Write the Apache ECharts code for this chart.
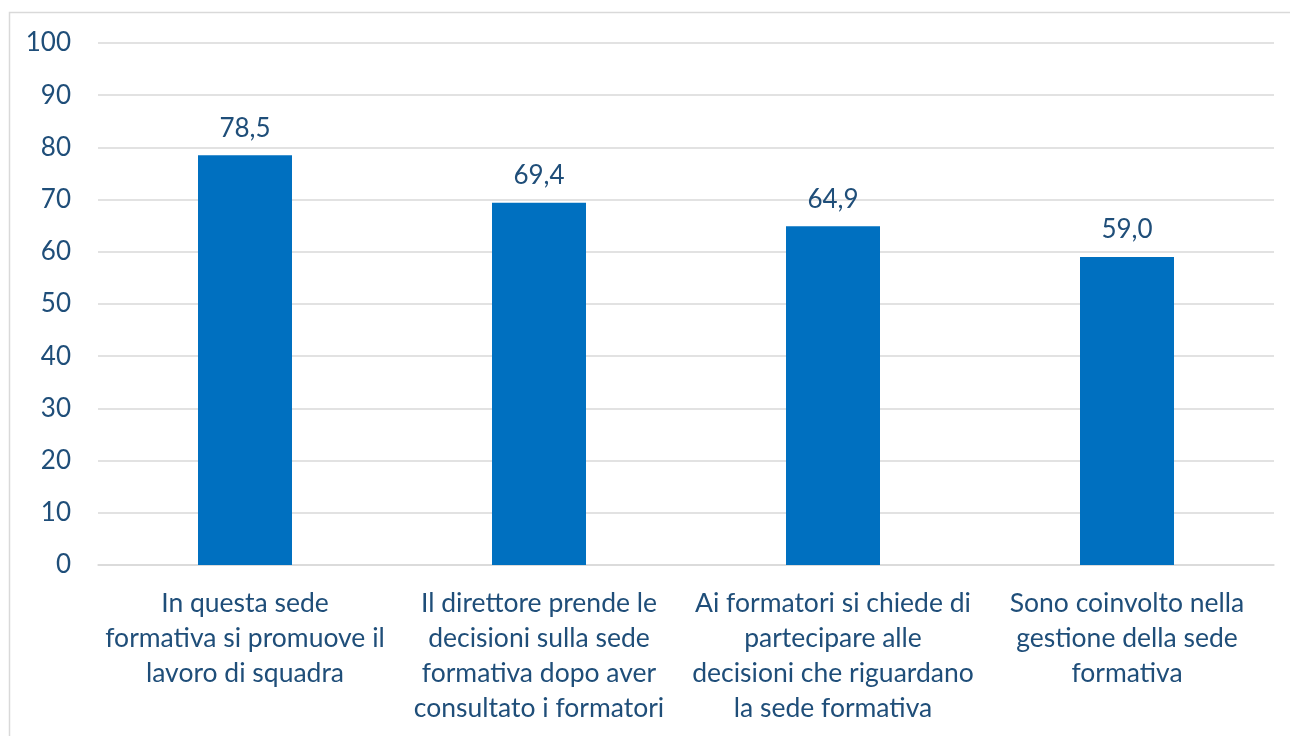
<!DOCTYPE html>
<html>
<head>
<meta charset="utf-8">
<script src="https://cdn.jsdelivr.net/npm/echarts@6/dist/echarts.min.js"></script>
<style>
  html, body { margin: 0; padding: 0; background: #fff; }
  #chart { width: 1290px; height: 736px; }
</style>
</head>
<body>
<div id="chart"></div>
<script>
// Survey items (x axis) and share of agreement (%)
const categories = [
  'In questa sede\nformativa si promuove il\nlavoro di squadra',
  'Il direttore prende le\ndecisioni sulla sede\nformativa dopo aver\nconsultato i formatori',
  'Ai formatori si chiede di\npartecipare alle\ndecisioni che riguardano\nla sede formativa',
  'Sono coinvolto nella\ngestione della sede\nformativa'
];
const values = [78.5, 69.4, 64.9, 59.0];

const textColor = '#1F4E79';
const fontFamily = 'Lato, "Open Sans", sans-serif';

const chart = echarts.init(document.getElementById('chart'), null, { renderer: 'canvas' });
chart.setOption({
  backgroundColor: '#ffffff',
  animation: false,
  graphic: [{
    type: 'rect',
    shape: { x: 9.5, y: 12.5, width: 1300, height: 760 },
    style: { fill: 'none', stroke: '#D9D9D9', lineWidth: 1.5 },
    silent: true,
    z: -1
  }],
  grid: { left: 98, right: 16, top: 43, bottom: 171, containLabel: false },
  xAxis: {
    type: 'category',
    data: categories,
    axisLine: { show: true, lineStyle: { color: '#D9D9D9', width: 1.5 } },
    axisTick: { show: false },
    axisLabel: {
      interval: 0,
      margin: 21,
      color: textColor,
      fontFamily: fontFamily,
      fontSize: 26.5,
      lineHeight: 35
    }
  },
  yAxis: {
    type: 'value',
    min: 0,
    max: 100,
    interval: 10,
    axisLine: { show: false },
    axisTick: { show: false },
    splitLine: { lineStyle: { color: '#D9D9D9', width: 1.5 } },
    axisLabel: {
      margin: 27,
      color: textColor,
      fontFamily: fontFamily,
      fontSize: 26
    }
  },
  series: [{
    type: 'bar',
    data: values,
    barWidth: 94,
    itemStyle: { color: '#0070C0' },
    label: {
      show: true,
      position: 'top',
      distance: 14,
      color: textColor,
      fontFamily: fontFamily,
      fontSize: 26,
      formatter: p => p.value.toFixed(1).replace('.', ',')
    }
  }]
});
</script>
</body>
</html>
